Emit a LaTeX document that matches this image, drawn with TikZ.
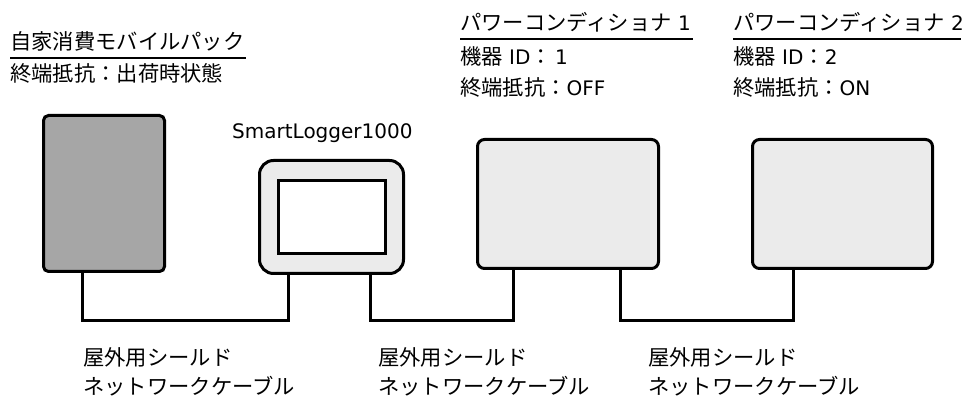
\documentclass[tikz,border=0pt]{standalone}
\usepackage{fontspec}
\setmainfont{DejaVu Sans}
\newfontfamily\jp[Scale=1.065]{Noto Sans CJK JP}
\begin{document}
\begin{tikzpicture}[x=1pt,y=-1pt,
  lbl/.style={anchor=west,inner sep=0pt,font=\fontsize{20}{24}\selectfont},
  dev/.style={draw=black,line width=3pt,rounded corners=#1,inner sep=0pt},
  cable/.style={draw=black,line width=3pt,line cap=rect}]
\useasboundingbox (0,0) rectangle (964,403);
% devices
\node[dev=5pt,fill={rgb,255:red,166;green,166;blue,166},minimum width=121pt,minimum height=156pt] (bat) at (104,193.5) {};
\node[dev=14pt,fill={rgb,255:red,235;green,235;blue,235},minimum width=144pt,minimum height=113pt] (sl) at (331.5,217) {};
\node[draw=black,line width=3pt,fill=white,inner sep=0pt,minimum width=107pt,minimum height=73pt] (slscr) at (332,217) {};
\node[dev=7pt,fill={rgb,255:red,235;green,235;blue,235},minimum width=181pt,minimum height=129pt] (pc1) at (568,204) {};
\node[dev=7pt,fill={rgb,255:red,235;green,235;blue,235},minimum width=180pt,minimum height=129pt] (pc2) at (842.5,204) {};
% cable coordinates
\coordinate (k1a) at (82,321);
\coordinate (k1b) at (288,321);
\coordinate (k2a) at (370,321);
\coordinate (k2b) at (513,321);
\coordinate (k3a) at (620,321);
\coordinate (k3b) at (793,321);
\draw[cable] (bat.south -| k1a) -- (k1a) -- (k1b) -- (sl.south -| k1b);
\draw[cable] (sl.south -| k2a) -- (k2a) -- (k2b) -- (pc1.south -| k2b);
\draw[cable] (pc1.south -| k3a) -- (k3a) -- (k3b) -- (pc2.south -| k3b);
% labels top
\node[lbl] (a1) at (10,41) {\jp 自家消費モバイルパック};
\node[lbl] (a2) at (10,73) {\jp 終端抵抗：出荷時状態};
\draw[line width=1.5pt] (10,58) -- (246,58);
\node[lbl] (b1) at (460,22) {{\jp パワーコンディショナ} 1};
\node[lbl] (b2) at (460,56) {{\jp 機器} ID{\jp ：}\,1};
\node[lbl] (b3) at (460,87) {{\jp 終端抵抗：}OFF};
\draw[line width=1.5pt] (460,39) -- (693,39);
\node[lbl] (c1) at (733,22) {{\jp パワーコンディショナ} 2};
\node[lbl] (c2) at (733,56) {{\jp 機器} ID{\jp ：}2};
\node[lbl] (c3) at (733,87) {{\jp 終端抵抗：}ON};
\draw[line width=1.5pt] (733,39) -- (961,39);
\node[lbl] (sln) at (232,133) {SmartLogger1000};
% bottom labels
\node[lbl] (d1) at (83,357) {\jp 屋外用シールド};
\node[lbl] (d2) at (83,386) {\jp ネットワークケーブル};
\node[lbl] (e1) at (378,357) {\jp 屋外用シールド};
\node[lbl] (e2) at (378,386) {\jp ネットワークケーブル};
\node[lbl] (f1) at (648,357) {\jp 屋外用シールド};
\node[lbl] (f2) at (648,386) {\jp ネットワークケーブル};
\end{tikzpicture}
\end{document}
